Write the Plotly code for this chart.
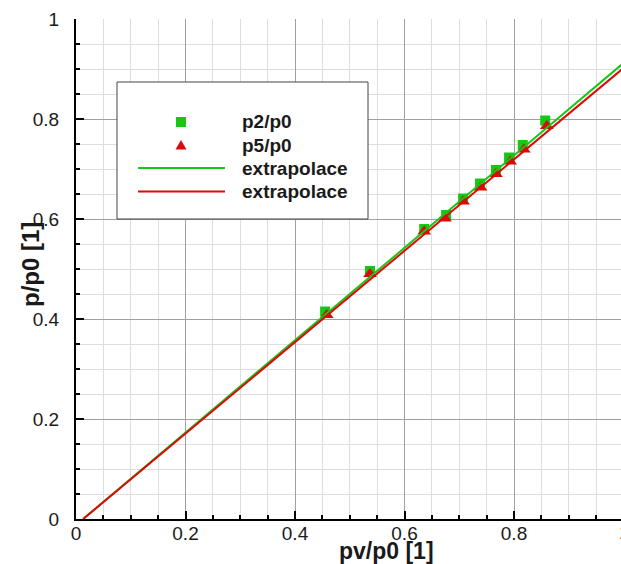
import plotly.graph_objects as go

# Static pressure ratios against vapour-pressure ratio
pv_p2 = [0.455, 0.537, 0.636, 0.676, 0.707, 0.738, 0.767, 0.791, 0.816, 0.857]
p2 = [0.415, 0.496, 0.580, 0.608, 0.641, 0.671, 0.698, 0.723, 0.748, 0.797]
pv_p5 = [0.458, 0.537, 0.636, 0.674, 0.707, 0.739, 0.767, 0.793, 0.818, 0.860]
p5 = [0.408, 0.490, 0.575, 0.601, 0.635, 0.663, 0.690, 0.715, 0.739, 0.786]

# Linear extrapolation of both series
fit_x = [0.013, 1.0]
fit_p2 = [0.0, 0.912]
fit_p5 = [0.0, 0.902]

x_ticks = [0, 0.2, 0.4, 0.6, 0.8]
y_ticks = [0, 0.2, 0.4, 0.6, 0.8, 1]
legend_labels = ["p2/p0", "p5/p0", "extrapolace", "extrapolace"]

GREEN = "#14c814"
RED = "#dc0a0a"
FONT = "Liberation Sans, Arial, sans-serif"

W, H = 621, 564
ML, MT, MB = 76, 19, 45
PW, PH = W - ML, H - MT - MB


def px(x):
    return (x - ML) / PW


def py(y):
    return (MT + PH - y) / PH


fig = go.Figure()
fig.add_trace(go.Scatter(x=pv_p2, y=p2, mode="markers", name=legend_labels[0],
                         marker=dict(symbol="square", size=10, color=GREEN)))
fig.add_trace(go.Scatter(x=pv_p5, y=p5, mode="markers", name=legend_labels[1],
                         marker=dict(symbol="triangle-up", size=12, color=RED)))
fig.add_trace(go.Scatter(x=fit_x, y=fit_p2, mode="lines", name=legend_labels[2],
                         line=dict(color=GREEN, width=2)))
fig.add_trace(go.Scatter(x=fit_x, y=fit_p5, mode="lines", name=legend_labels[3],
                         line=dict(color=RED, width=2)))

axis_common = dict(
    showline=True, linecolor="black", linewidth=2,
    ticks="inside", ticklen=8, tickwidth=1.5, tickcolor="black",
    showgrid=True, gridcolor="#a0a0a0", gridwidth=1.2,
    zeroline=False,
    tickfont=dict(family=FONT, size=19, color="#1a1a1a"),
    minor=dict(dtick=0.05, ticks="inside", ticklen=4, tickcolor="black",
               showgrid=True, gridcolor="#dedede", gridwidth=1),
)

fig.update_xaxes(range=[0, PW / 547.5], tickvals=x_ticks,
                 ticktext=[f"{v:g}" for v in x_ticks], ticklabelstandoff=-4,
                 **axis_common)
fig.update_yaxes(range=[0, 1], tickvals=y_ticks,
                 ticktext=[f"{v:g}" for v in y_ticks], ticklabelstandoff=11,
                 **axis_common)

shapes = []
annotations = []

# legend frame
shapes.append(dict(type="rect", xref="paper", yref="paper",
                   x0=px(117), x1=px(368), y0=py(219), y1=py(82),
                   fillcolor="white", line=dict(color="#444", width=1), layer="above"))
# legend symbols
shapes.append(dict(type="rect", xref="paper", yref="paper",
                   x0=px(176), x1=px(186), y0=py(127), y1=py(117),
                   fillcolor=GREEN, line=dict(width=0), layer="above"))
shapes.append(dict(type="path", xref="paper", yref="paper",
                   path=f"M {px(175.5)} {py(149.5)} L {px(186.5)} {py(149.5)} L {px(181)} {py(140)} Z",
                   fillcolor=RED, line=dict(width=0), layer="above"))
shapes.append(dict(type="line", xref="paper", yref="paper",
                   x0=px(138), x1=px(225), y0=py(168), y1=py(168),
                   line=dict(color=GREEN, width=2), layer="above"))
shapes.append(dict(type="line", xref="paper", yref="paper",
                   x0=px(138), x1=px(225), y0=py(191.5), y1=py(191.5),
                   line=dict(color=RED, width=2), layer="above"))

for label, yy in zip(legend_labels, [122, 145, 168, 191]):
    annotations.append(dict(xref="paper", yref="paper", x=px(240), y=py(yy),
                            xanchor="left", yanchor="middle", showarrow=False,
                            text=f"<b>{label}</b>",
                            font=dict(family=FONT, size=19, color="#1a1a1a")))

# axis titles
annotations.append(dict(xref="paper", yref="paper", x=px(386), y=py(551),
                        xanchor="center", yanchor="middle", showarrow=False,
                        text="<b>pv/p0 [1]</b>",
                        font=dict(family=FONT, size=23, color="#1a1a1a")))
annotations.append(dict(xref="paper", yref="paper", x=px(30), y=py(265),
                        xanchor="center", yanchor="middle", showarrow=False,
                        textangle=-90, text="<b>p/p0 [1]</b>",
                        font=dict(family=FONT, size=24, color="#1a1a1a")))
# tick label at x = 1, at the right border
annotations.append(dict(xref="paper", yref="paper", x=px(624), y=py(532),
                        xanchor="center", yanchor="middle", showarrow=False,
                        text="1", font=dict(family=FONT, size=19, color="#1a1a1a")))

fig.update_layout(
    width=W, height=H,
    margin=dict(l=ML, r=0, t=MT, b=MB),
    plot_bgcolor="white", paper_bgcolor="white",
    showlegend=False,
    shapes=shapes, annotations=annotations,
)

fig.write_html("out.html")
